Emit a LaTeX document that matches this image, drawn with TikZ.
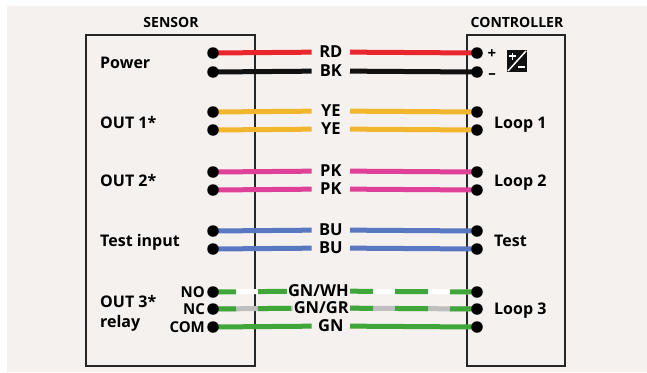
\documentclass[tikz,border=0pt]{standalone}
\usepackage{fontspec}
\setmainfont{Open Sans}
\usepackage{tikz}
\pgfdeclarelayer{bg}
\pgfdeclarelayer{wires}
\pgfsetlayers{bg,wires,main}
\definecolor{paper}{HTML}{F4F1EE}
\definecolor{frame}{HTML}{262626}
\definecolor{wRD}{HTML}{E8262B}
\definecolor{wBK}{HTML}{111111}
\definecolor{wYE}{HTML}{F2B62E}
\definecolor{wPK}{HTML}{E04198}
\definecolor{wBU}{HTML}{5A78C2}
\definecolor{wGN}{HTML}{3FA639}
\definecolor{wGR}{HTML}{BEBEBE}
\tikzset{
  dot/.style={circle,fill=black,inner sep=0pt,minimum size=11.5pt},
  wire/.style={line width=5pt},
  stripe/.style={dash pattern=on 23pt off 22pt on 33pt off 22pt},
  wirelabel/.style={anchor=east,minimum width=38pt,inner xsep=1pt,inner ysep=0pt,
    text height=11.5pt,text depth=0pt,font=\fontsize{16.5}{19}\selectfont\bfseries},
  lbl/.style={inner sep=0pt,font=\fontsize{16}{20}\selectfont\bfseries},
  pin/.style={anchor=east,inner xsep=2pt,inner ysep=0pt,text height=10pt,text depth=0pt,
    font=\fontsize{15}{18}\selectfont\bfseries},
  title/.style={font=\fontsize{14}{16}\selectfont\bfseries},
  box/.style={draw=frame,line width=2pt}
}
% #1 name, #2 y, #3 label, #4 wire style
\newcommand{\drawwire}[4]{
\node[dot] (s#1) at (213,#2) {};
\node[dot] (c#1) at (477,#2) {};
\node[wirelabel] (l#1) at (350,#2-1) {#3};
\begin{pgfonlayer}{wires}
\draw[wire,#4] (s#1.center) -- (l#1) (l#1) -- (c#1.center);
\end{pgfonlayer}}

\begin{document}
\begin{tikzpicture}[x=1pt,y=-1pt]
\useasboundingbox (0,0) rectangle (647,372);
\begin{pgfonlayer}{bg}
\fill[paper] (7,6) rectangle (647,372);
\draw[box] (86,35) rectangle (255,366);
\draw[box] (467,35) rectangle (565,366);
\end{pgfonlayer}
\node[title] (sensortitle) at (171,22) {SENSOR};
\node[title] (ctrltitle) at (517,22) {CONTROLLER};

% wires
\drawwire{rd}{53}{RD}{wRD}
\drawwire{bk}{72}{BK}{wBK}
\drawwire{yeA}{112}{YE}{wYE}
\drawwire{yeB}{130}{YE}{wYE}
\drawwire{pkA}{172}{PK}{wPK}
\drawwire{pkB}{190}{PK}{wPK}
\drawwire{buA}{231}{BU}{wBU}
\drawwire{buB}{249}{BU}{wBU}
\drawwire{no}{292}{GN/WH}{wGN,stripe}
\drawwire{nc}{309}{GN/GR}{wGN,stripe}
\drawwire{com}{327}{GN}{wGN}
\begin{pgfonlayer}{bg}
\draw[wire,white] (sno.center) -- (lno) (lno) -- (cno.center);
\draw[wire,wGR] (snc.center) -- (lnc) (lnc) -- (cnc.center);
\end{pgfonlayer}

% sensor side
\node[lbl,anchor=base west] (power) at (100,68) {Power};
\node[lbl,anchor=base west] (outA) at (100,128) {OUT 1*};
\node[lbl,anchor=base west] (outB) at (100,186) {OUT 2*};
\node[lbl,anchor=base west] (testin) at (100,246) {Test input};
\node[lbl,anchor=west,align=left] (outC) at (100,313) {OUT 3*\\relay};
\node[pin] (pno) at (sno.west) {NO};
\node[pin] (pnc) at (snc.west) {NC};
\node[pin] (pcom) at (scom.west) {COM};

% controller side
\node[pin,anchor=center] (plus) at (492,53) {+};
\node[pin,anchor=center] (minus) at (492,73) {–};
\fill[wBK] (507,50) rectangle (527,72);
\draw[white,line width=1.5pt] (508,71) -- (526,51);
\draw[white,line width=1.6pt] (509,56) -- (516,56) (512.5,52.5) -- (512.5,59.5);
\draw[white,line width=1.6pt] (518,67) -- (524.5,67);
\node[lbl,anchor=base west] (loopA) at (494,128) {Loop 1};
\node[lbl,anchor=base west] (loopB) at (494,186) {Loop 2};
\node[lbl,anchor=base west] (test) at (494,246) {Test};
\node[lbl,anchor=base west] (loopC) at (494,314) {Loop 3};
\end{tikzpicture}
\end{document}
